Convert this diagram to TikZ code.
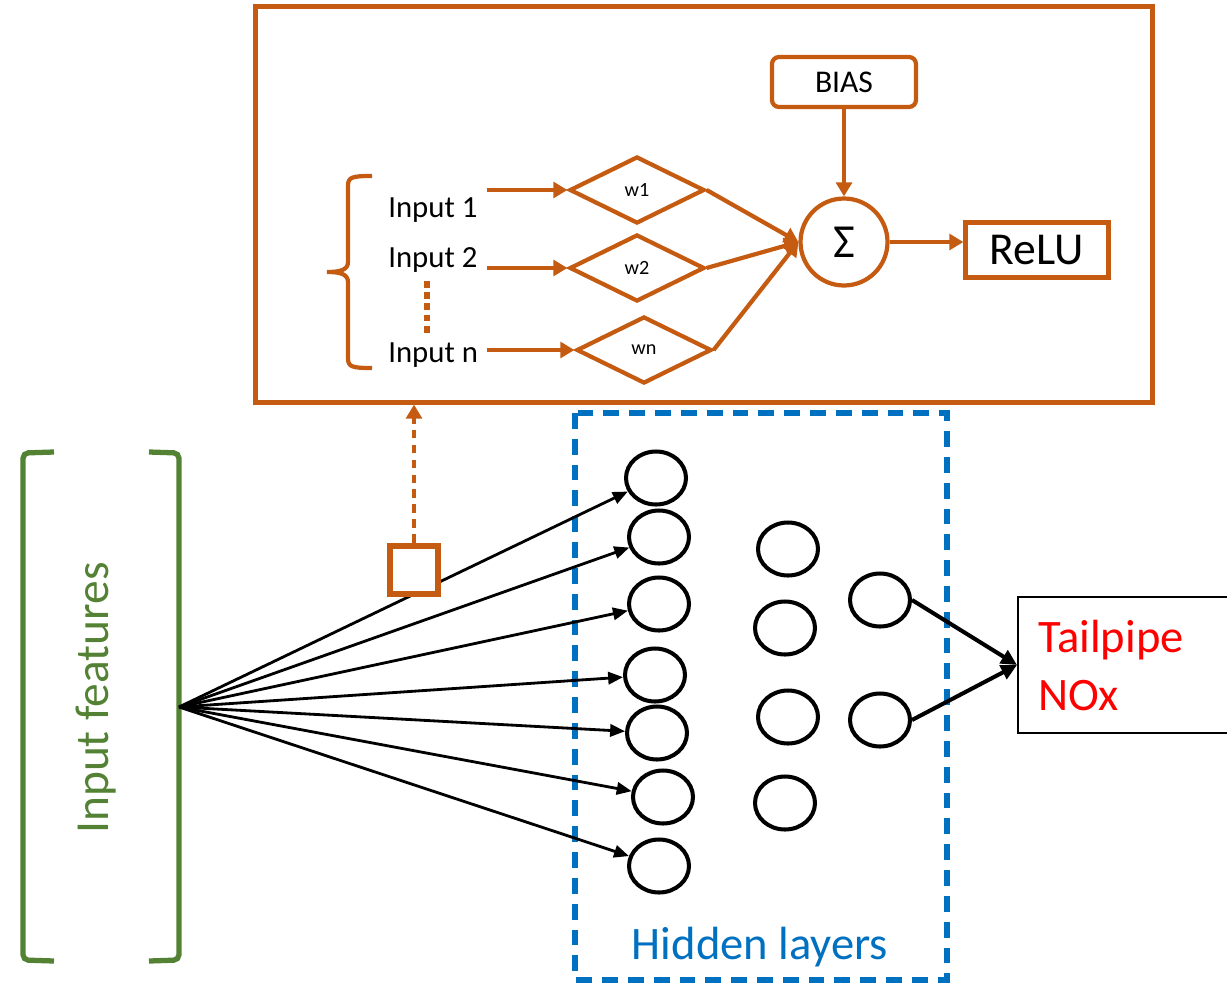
\documentclass[tikz,border=0pt]{standalone}
\usepackage{fontspec}
\setmainfont{Carlito}
\usetikzlibrary{arrows.meta,shapes.geometric}
\definecolor{rust}{HTML}{C55A11}
\definecolor{leaf}{HTML}{548235}
\definecolor{sea}{HTML}{0070C0}
\begin{document}
\begin{tikzpicture}[x=0.02cm,y=-0.02cm]
\tikzstyle{every node}+=[inner sep=0pt]
\tikzstyle{rustline}=[draw=rust,line width=2.4pt]
\tikzstyle{rustarrow}=[rustline,-{Triangle[length=8pt,width=9pt]}]
\tikzstyle{weight}=[diamond,rustline,aspect=2,minimum width=2.7cm,minimum height=1.34cm,font=\fontsize{11.5}{13}\selectfont]
\tikzstyle{inlabel}=[anchor=base west,font=\fontsize{17.5}{21}\selectfont]
\tikzstyle{neuron}=[ellipse,draw=black,line width=2.3pt,minimum width=1.2cm,minimum height=1.06cm]
\tikzstyle{fanarrow}=[black,line width=1.6pt,-{Triangle[length=8.5pt,width=7pt]}]
\tikzstyle{outarrow}=[black,line width=2.3pt,-{Triangle[length=9pt,width=8.5pt]}]
\clip (0,0) rectangle (1227,987);
% single neuron detail
\node [rustline,minimum width=17.94cm,minimum height=7.92cm] (cell) at (704,204.5) {};
\node [rustline,rounded corners=4pt,minimum width=2.88cm,minimum height=1cm,font=\fontsize{18}{22}\selectfont] (bias) at (844,82) {BIAS};
\node [circle,rustline,minimum size=1.74cm,font=\fontsize{27}{30}\selectfont] (sum) at (844,242) {Σ};
\node [rustline,minimum width=2.86cm,minimum height=1.1cm,font=\fontsize{26}{30}\selectfont] (relu) at (1037,250) {ReLU};
\node [weight] (w1) at (637,190) {w1};
\node [weight] (w2) at (637,268) {w2};
\node [weight] (wn) at (644,350) {wn};
\node [inlabel] (in1) at (388,217) {Input 1};
\node [inlabel] (in2) at (388,267) {Input 2};
\node [inlabel] (inn) at (388,362) {Input n};
\draw [rustline] (372,176) .. controls (352,176) and (348,177) .. (348,186) -- (348,262)
  .. controls (348,270) and (340,272) .. (327,272) .. controls (340,272) and (348,274) .. (348,282)
  -- (348,358) .. controls (348,367) and (352,368) .. (372,368);
\draw [rust,line width=3.8pt,dash pattern=on 3.8pt off 2.6pt] (427,281) -- (427,333);
\draw [rustarrow,shorten <=5pt] (in1.east |- w1.west) -- (w1.west);
\draw [rustarrow,shorten <=5pt] (in2.east |- w2.west) -- (w2.west);
\draw [rustarrow,shorten <=5pt] (inn.east |- wn.west) -- (wn.west);
\draw [rustarrow] (w1.east) -- (sum.west);
\draw [rustarrow] (w2.east) -- (sum.west);
\draw [rustarrow] (wn.east) -- (sum.west);
\draw [rustarrow] (bias) -- (sum);
\draw [rustarrow] (sum.east) -- (sum.east -| relu.west);
% inputs
\draw [leaf,line width=3pt,rounded corners=3pt] (54,452) -- (23,453) -- (23,960) -- (54,961);
\draw [leaf,line width=3pt,rounded corners=3pt] (149,452) -- (179,453) -- (179,960) -- (149,961);
\node [rotate=90,text=leaf,font=\fontsize{27}{30}\selectfont] (feat) at (96,698) {Input features};
\coordinate (fan) at (179,707);
% hidden layers
\draw [sea,line width=3.1pt,dash pattern=on 9pt off 5.7pt] (575,413) rectangle (947,980);
\node [anchor=base,text=sea,font=\fontsize{26.5}{30}\selectfont] (hid) at (760,959) {Hidden layers};
\node [neuron] (e1) at (656,478) {};
\node [neuron] (e2) at (659,537) {};
\node [neuron] (e3) at (659,604) {};
\node [neuron] (e4) at (655,675) {};
\node [neuron] (e5) at (657,733) {};
\node [neuron] (e6) at (663,797) {};
\node [neuron] (e7) at (659,866) {};
\node [neuron] (f1) at (788,549) {};
\node [neuron] (f2) at (785,628) {};
\node [neuron] (f3) at (788,717) {};
\node [neuron] (f4) at (785,803) {};
\node [neuron] (g1) at (880,600) {};
\node [neuron] (g2) at (880,720) {};
\draw [fanarrow] (fan) -- (e1);
\draw [fanarrow] (fan) -- (e2);
\draw [fanarrow] (fan) -- (e3);
\draw [fanarrow] (fan) -- (e4);
\draw [fanarrow] (fan) -- (e5);
\draw [fanarrow] (fan) -- (e6);
\draw [fanarrow] (fan) -- (e7);
\node [draw=rust,line width=3.4pt,fill=white,minimum size=0.96cm] (sq) at (414,570) {};
\draw [rustline,dash pattern=on 5pt off 3.5pt,-{Triangle[length=8pt,width=9pt]}] (sq.north) -- (sq.north |- cell.south);
% output
\node [draw=black,line width=1.4pt,anchor=west,minimum height=2.72cm,text width=3.9cm,inner xsep=0.4cm,align=left,text=red,font=\fontsize{26.5}{33}\selectfont] (nox) at (1017,665) {Tailpipe\\NOx};
\draw [outarrow] (g1.east) -- (nox.west);
\draw [outarrow] (g2.east) -- (nox.west);
\end{tikzpicture}
\end{document}
